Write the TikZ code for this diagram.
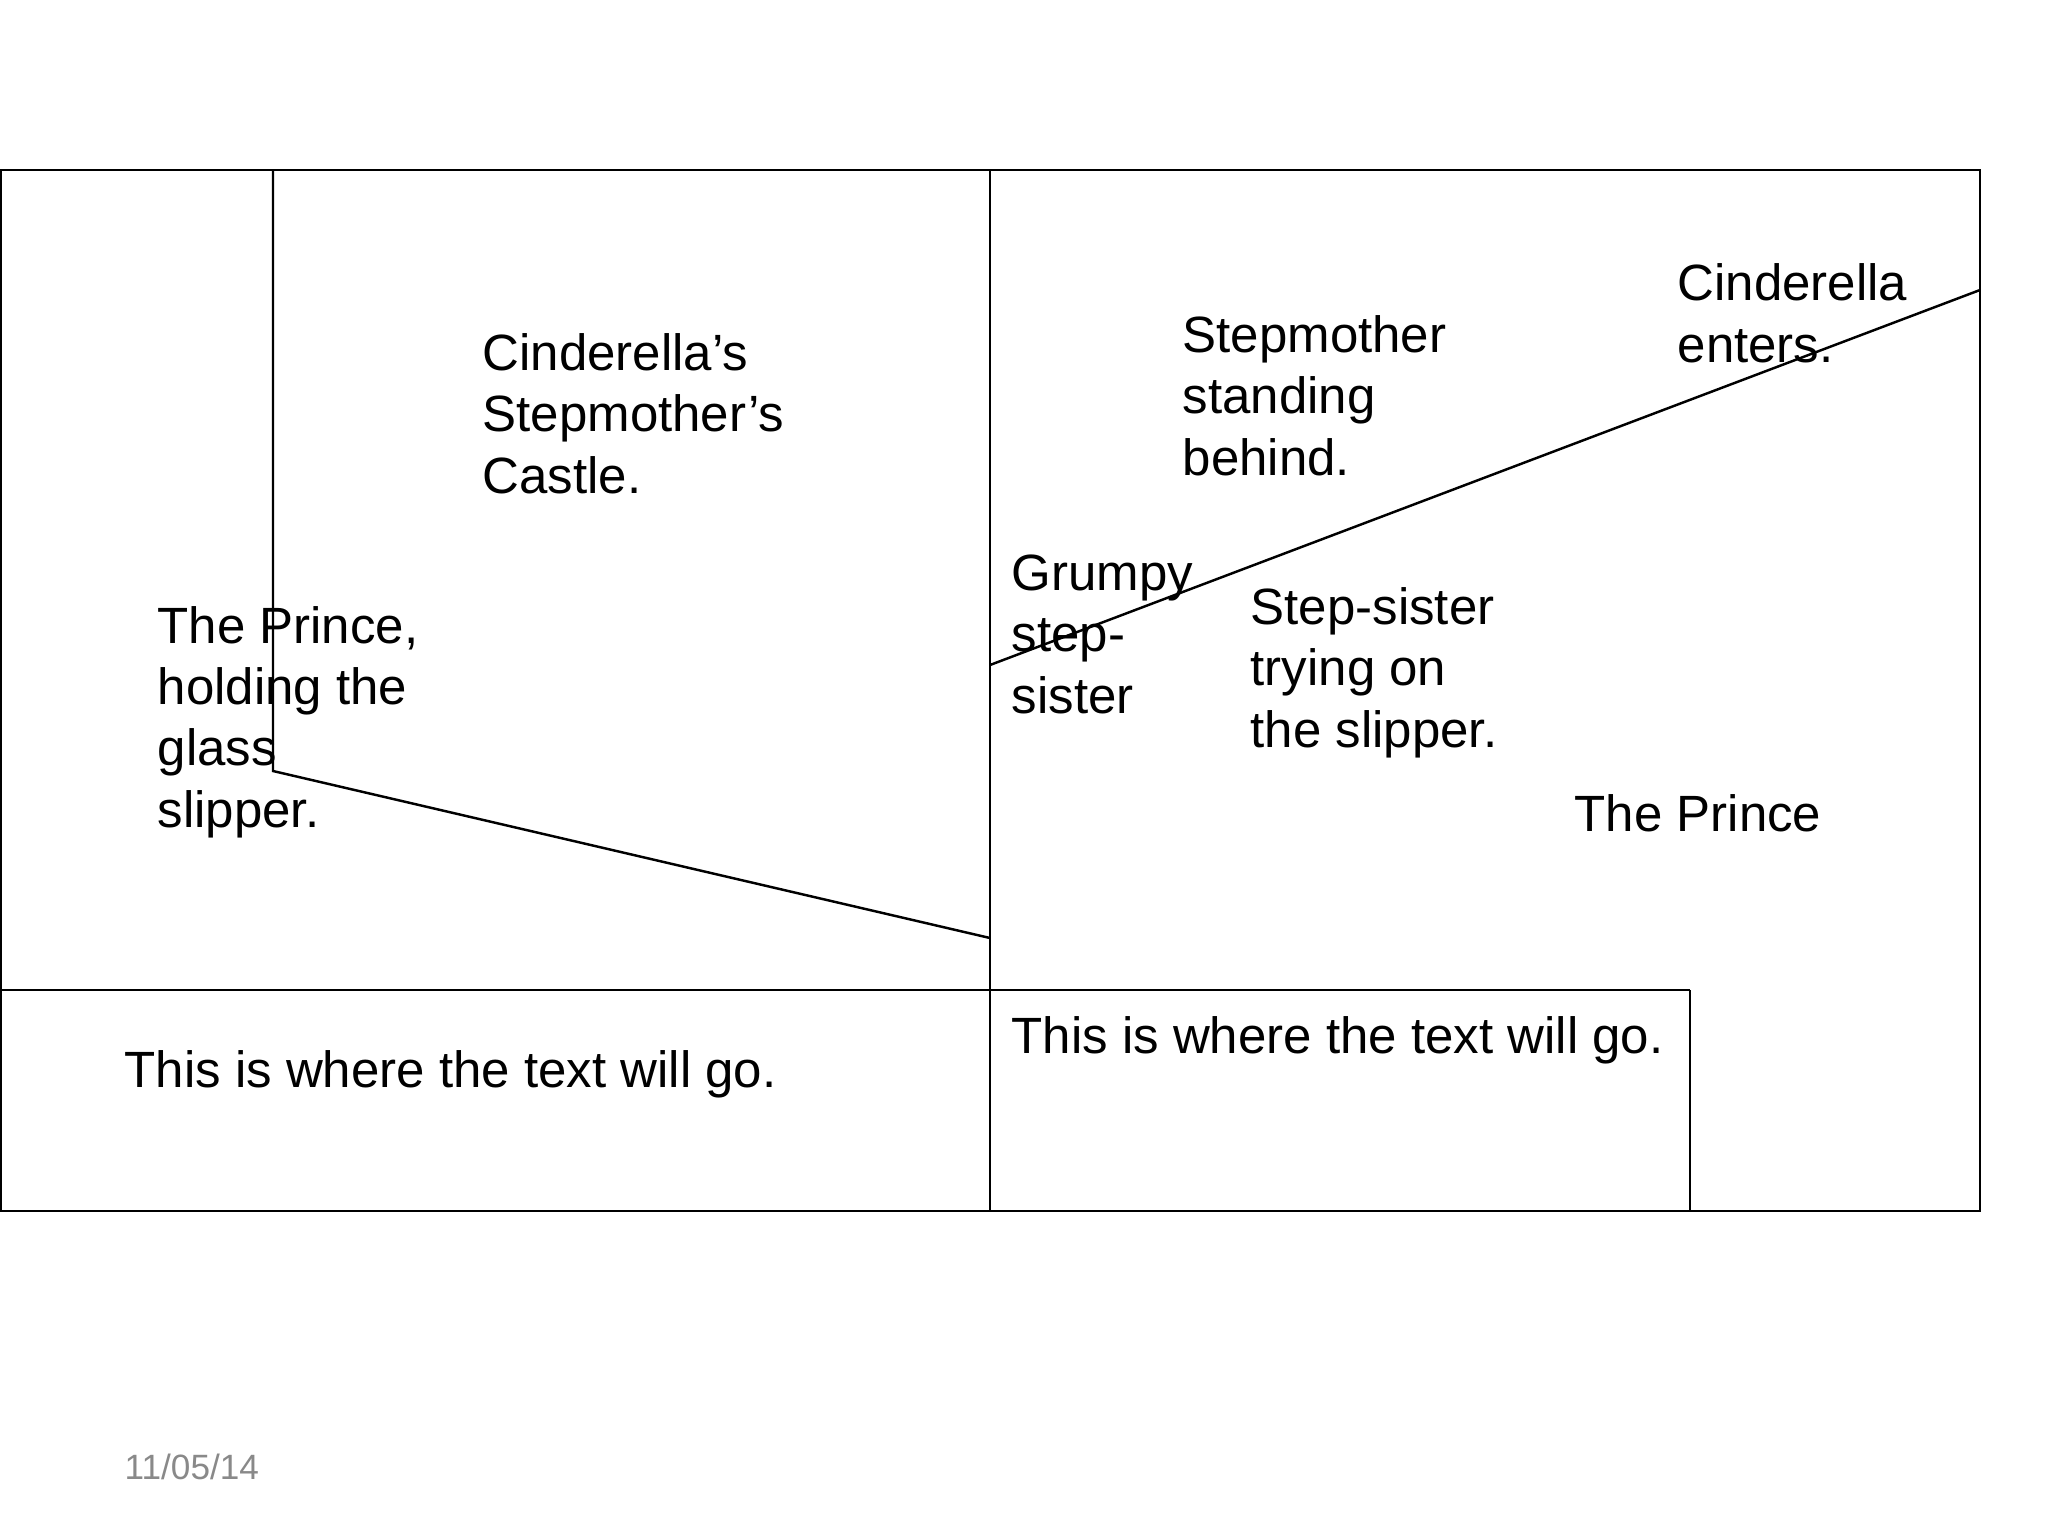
\documentclass[tikz,border=0pt]{standalone}
\usepackage{fontspec}
\setmainfont{Liberation Sans}
\definecolor{dategray}{HTML}{898989}
\begin{document}
\begin{tikzpicture}[x=0.01cm,y=-0.01cm,
  frame/.style={line width=0.7pt,black},
  lbl/.style={anchor=base west,inner sep=0pt,align=left,font=\fontsize{14.5}{17.4}\selectfont},
  datelbl/.style={anchor=base west,inner sep=0pt,font=\fontsize{10}{12}\selectfont,text=dategray}]
\useasboundingbox (0,0) rectangle (2048,1536);
% outer frame and panels
\draw[frame] (1,170) rectangle (1980,1211);
\draw[frame] (990,170) -- (990,1211);
\draw[frame] (1,990) -- (1690,990);
\draw[frame] (1690,990) -- (1690,1211);
% left scene lines
\draw[frame] (273,170) -- (273,771) -- (990,938);
% right scene diagonal
\draw[frame] (990,665) -- (1980,290);
% texts (anchored at the baseline of the last line)
\node[lbl] (castle) at (482,493) {Cinderella’s\\Stepmother’s\\Castle.};
\node[lbl] (prince1) at (157,827) {The Prince,\\holding the\\glass\\slipper.};
\node[lbl] (stepmother) at (1182,475) {Stepmother\\standing\\behind.};
\node[lbl] (cinderella) at (1677,362) {Cinderella\\enters.};
\node[lbl] (grumpy) at (1011,713) {Grumpy\\step-\\sister};
\node[lbl] (stepsister) at (1250,747) {Step-sister\\trying on\\the slipper.};
\node[lbl] (prince2) at (1574,831) {The Prince};
\node[lbl] (text1) at (124,1087) {This is where the text will go.};
\node[lbl] (text2) at (1011,1053) {This is where the text will go.};
\node[datelbl] (date) at (124,1479) {11/05/14};
\end{tikzpicture}
\end{document}
